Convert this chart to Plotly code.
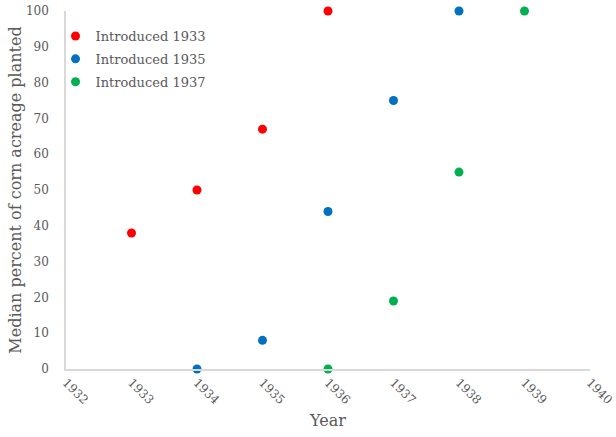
import plotly.graph_objects as go

# data
years_1933 = [1933, 1934, 1935, 1936]
pct_1933 = [38, 50, 67, 100]
years_1935 = [1934, 1935, 1936, 1937, 1938]
pct_1935 = [0, 8, 44, 75, 100]
years_1937 = [1936, 1937, 1938, 1939]
pct_1937 = [0, 19, 55, 100]

series = [
    ("Introduced 1933", years_1933, pct_1933, "#FF0000"),
    ("Introduced 1935", years_1935, pct_1935, "#0070C0"),
    ("Introduced 1937", years_1937, pct_1937, "#00B050"),
]

FONT = "DejaVu Serif"
GREY = "#595959"

fig = go.Figure()
for name, xs, ys, col in series:
    fig.add_trace(go.Scatter(
        x=xs, y=ys, mode="markers", name=name, legendgroup=name,
        marker=dict(size=9, color=col),
        cliponaxis=False,
    ))

fig.update_layout(
    width=616, height=437,
    margin=dict(l=66, r=26, t=11, b=68, autoexpand=False),
    paper_bgcolor="white", plot_bgcolor="white",
    font=dict(family=FONT, color=GREY, size=12),
    showlegend=True,
    legend=dict(x=-0.02, y=0.972, xanchor="left", yanchor="top",
                font=dict(size=13, color=GREY),
                itemwidth=30, tracegroupgap=3,
                bgcolor="rgba(0,0,0,0)"),
)
fig.update_xaxes(
    range=[1932, 1940], dtick=1, tick0=1932, tickangle=45,
    showgrid=False, zeroline=False, automargin=True,
    ticklabeloverflow="allow",
    showline=True, linecolor="#D9D9D9", linewidth=1.5,
    tickfont=dict(size=12, color=GREY),
    title=dict(text="Year", font=dict(size=16, color=GREY), standoff=8),
)
fig.update_yaxes(
    range=[0, 100], dtick=10,
    showgrid=False, zeroline=False, automargin=True,
    ticklabeloverflow="allow",
    showline=True, linecolor="#D9D9D9", linewidth=1.5,
    tickfont=dict(size=12, color=GREY), ticklabelstandoff=13,
    title=dict(text="Median percent of corn acreage planted",
               font=dict(size=16, color=GREY), standoff=0),
)

# drop the default 8px body margin so the figure fills the window
fig.write_html("out.html", config={"displayModeBar": False},
               post_script="document.body.style.margin='0';")
